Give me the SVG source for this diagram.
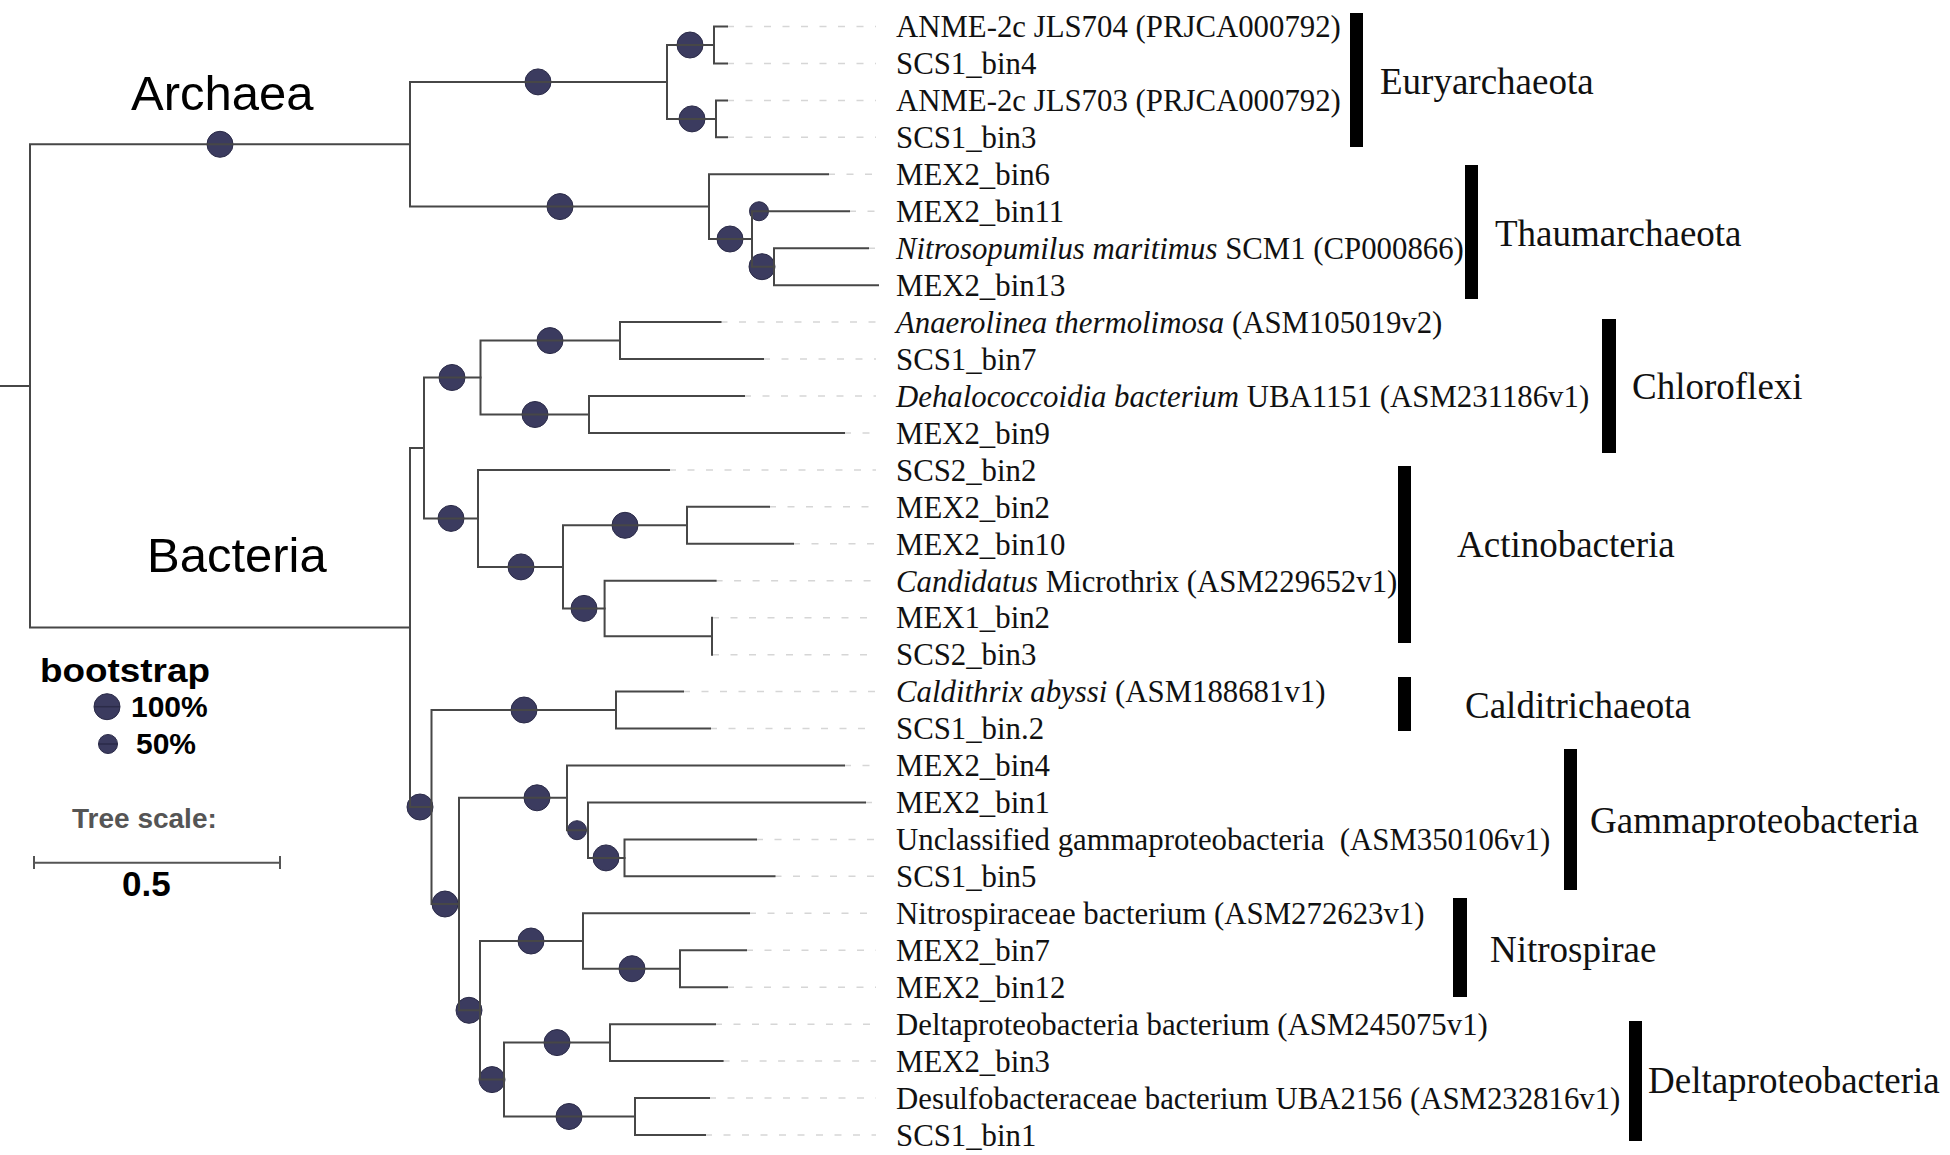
<svg xmlns="http://www.w3.org/2000/svg" width="1950" height="1155" viewBox="0 0 1950 1155">
<style>
.br{fill:none;stroke:#474747;stroke-width:2;stroke-linecap:square}
.ld{fill:none;stroke:#d6d6d6;stroke-width:1.5;stroke-dasharray:7 11.5}
.bs{fill:#3b3b5f;stroke:#2b2b48;stroke-width:1}
.lf{font-family:"Liberation Serif","Times New Roman",serif;font-size:30.8px;fill:#111}
.cl{font-family:"Liberation Serif","Times New Roman",serif;font-size:37px;fill:#111}
.dm{font-family:"Liberation Sans",Arial,sans-serif;font-size:49px;fill:#000}
.bar{fill:#000}
.it{font-style:italic}
</style>
<rect width="1950" height="1155" fill="#fff"/>
<g id="domains">
<text class="dm" x="131" y="110">Archaea</text>
<text class="dm" x="147" y="572">Bacteria</text>
</g>
<g id="leaders">
<path class="ld" d="M727 26.5H876M727 63.45H876M727 100.4H876M727 137.35H876M828 174.3H876M849 211.25H876M868 248.2H876M720.5 322.1H876M763 359.05H876M744 396H876M844 432.95H876M669 469.9H876M769 506.85H876M793 543.8H876M715.6 580.75H876M712 617.7H876M712 654.65H876M683 691.6H876M710 728.55H876M844 765.5H876M865 802.45H876M756 839.4H876M774.5 876.35H876M749 913.3H876M746 950.25H876M727 987.2H876M715 1024.15H876M722.6 1061.1H876M709 1098.05H876M705 1135H876"/>
</g>
<g id="bootstrap">
<circle class="bs" cx="220" cy="144.3" r="13"/>
<circle class="bs" cx="538" cy="81.9" r="13"/>
<circle class="bs" cx="560" cy="206.6" r="13"/>
<circle class="bs" cx="690" cy="45" r="13"/>
<circle class="bs" cx="692" cy="118.9" r="13"/>
<circle class="bs" cx="730" cy="239" r="13"/>
<circle class="bs" cx="759" cy="211.25" r="9.5"/>
<circle class="bs" cx="762" cy="266.7" r="13"/>
<circle class="bs" cx="452" cy="377.5" r="13"/>
<circle class="bs" cx="451" cy="518.4" r="13"/>
<circle class="bs" cx="550" cy="340.6" r="13"/>
<circle class="bs" cx="535" cy="414.5" r="13"/>
<circle class="bs" cx="521" cy="566.9" r="13"/>
<circle class="bs" cx="625" cy="525.3" r="13"/>
<circle class="bs" cx="584" cy="608.4" r="13"/>
<circle class="bs" cx="420" cy="807" r="13"/>
<circle class="bs" cx="524" cy="710" r="13"/>
<circle class="bs" cx="445" cy="904" r="13"/>
<circle class="bs" cx="537" cy="797.8" r="13"/>
<circle class="bs" cx="577" cy="830.2" r="9.5"/>
<circle class="bs" cx="606" cy="857.9" r="13"/>
<circle class="bs" cx="469" cy="1010.3" r="13"/>
<circle class="bs" cx="531" cy="941" r="13"/>
<circle class="bs" cx="632" cy="968.7" r="13"/>
<circle class="bs" cx="492" cy="1079.6" r="13"/>
<circle class="bs" cx="557" cy="1042.6" r="13"/>
<circle class="bs" cx="569" cy="1116.5" r="13"/>
</g>
<g id="branches">
<path class="br" d="M0 385.9H30M30 144.3V627.5M30 144.3H410M30 627.5H410"/>
<path class="br" d="M410 81.9V206.6M410 81.9H667M410 206.6H709"/>
<path class="br" d="M667 45V118.9M667 45H714M667 118.9H716"/>
<path class="br" d="M714 26.5V63.45M714 26.5H727M714 63.45H727"/>
<path class="br" d="M716 100.4V137.35M716 100.4H727M716 137.35H727"/>
<path class="br" d="M709 174.3V239M709 174.3H828M709 239H752"/>
<path class="br" d="M752 211.25V266.7M752 211.25H849M752 266.7H774"/>
<path class="br" d="M774 248.2V285.15M774 248.2H868M774 285.15H878"/>
<path class="br" d="M410 448V807M410 448H424M410 807H431.5"/>
<path class="br" d="M424 377.5V518.4M424 377.5H480.5M424 518.4H478"/>
<path class="br" d="M480.5 340.6V414.5M480.5 340.6H620M480.5 414.5H589"/>
<path class="br" d="M620 322.1V359.05M620 322.1H720.5M620 359.05H763"/>
<path class="br" d="M589 396V432.95M589 396H744M589 432.95H844"/>
<path class="br" d="M478 469.9V566.9M478 469.9H669M478 566.9H563"/>
<path class="br" d="M563 525.3V608.4M563 525.3H687M563 608.4H604.6"/>
<path class="br" d="M687 506.85V543.8M687 506.85H769M687 543.8H793"/>
<path class="br" d="M604.6 580.75V636.2M604.6 580.75H715.6M604.6 636.2H712"/>
<path class="br" d="M712 617.7V654.65"/>
<path class="br" d="M431.5 710V904M431.5 710H616M431.5 904H459"/>
<path class="br" d="M616 691.6V728.55M616 691.6H683M616 728.55H710"/>
<path class="br" d="M459 797.8V1010.3M459 797.8H567M459 1010.3H480"/>
<path class="br" d="M567 765.5V830.2M567 765.5H844M567 830.2H588"/>
<path class="br" d="M588 802.45V857.9M588 802.45H865M588 857.9H624.5"/>
<path class="br" d="M624.5 839.4V876.35M624.5 839.4H756M624.5 876.35H774.5"/>
<path class="br" d="M480 941V1079.6M480 941H583M480 1079.6H504"/>
<path class="br" d="M583 913.3V968.7M583 913.3H749M583 968.7H680"/>
<path class="br" d="M680 950.25V987.2M680 950.25H746M680 987.2H727"/>
<path class="br" d="M504 1042.6V1116.5M504 1042.6H610M504 1116.5H635"/>
<path class="br" d="M610 1024.15V1061.1M610 1024.15H715M610 1061.1H722.6"/>
<path class="br" d="M635 1098.05V1135M635 1098.05H709M635 1135H705"/>
</g>
<g id="leaves">
<text class="lf" x="896" y="37">ANME-2c JLS704 (PRJCA000792)</text>
<text class="lf" x="896" y="74">SCS1_bin4</text>
<text class="lf" x="896" y="111">ANME-2c JLS703 (PRJCA000792)</text>
<text class="lf" x="896" y="148">SCS1_bin3</text>
<text class="lf" x="896" y="185">MEX2_bin6</text>
<text class="lf" x="896" y="222">MEX2_bin11</text>
<text class="lf" x="896" y="259"><tspan class="it">Nitrosopumilus maritimus</tspan> SCM1 (CP000866)</text>
<text class="lf" x="896" y="296">MEX2_bin13</text>
<text class="lf" x="896" y="333"><tspan class="it">Anaerolinea thermolimosa</tspan> (ASM105019v2)</text>
<text class="lf" x="896" y="370">SCS1_bin7</text>
<text class="lf" x="896" y="406.5"><tspan class="it">Dehalococcoidia bacterium</tspan> UBA1151 (ASM231186v1)</text>
<text class="lf" x="896" y="443.5">MEX2_bin9</text>
<text class="lf" x="896" y="480.5">SCS2_bin2</text>
<text class="lf" x="896" y="517.5">MEX2_bin2</text>
<text class="lf" x="896" y="554.5">MEX2_bin10</text>
<text class="lf" x="896" y="591.5"><tspan class="it">Candidatus</tspan> Microthrix (ASM229652v1)</text>
<text class="lf" x="896" y="628">MEX1_bin2</text>
<text class="lf" x="896" y="665">SCS2_bin3</text>
<text class="lf" x="896" y="702"><tspan class="it">Caldithrix abyssi</tspan> (ASM188681v1)</text>
<text class="lf" x="896" y="739">SCS1_bin.2</text>
<text class="lf" x="896" y="776">MEX2_bin4</text>
<text class="lf" x="896" y="813">MEX2_bin1</text>
<text class="lf" x="896" y="850" style="white-space:pre">Unclassified gammaproteobacteria  (ASM350106v1)</text>
<text class="lf" x="896" y="887">SCS1_bin5</text>
<text class="lf" x="896" y="924">Nitrospiraceae bacterium (ASM272623v1)</text>
<text class="lf" x="896" y="961">MEX2_bin7</text>
<text class="lf" x="896" y="998">MEX2_bin12</text>
<text class="lf" x="896" y="1034.5">Deltaproteobacteria bacterium (ASM245075v1)</text>
<text class="lf" x="896" y="1071.5">MEX2_bin3</text>
<text class="lf" x="896" y="1108.5">Desulfobacteraceae bacterium UBA2156 (ASM232816v1)</text>
<text class="lf" x="896" y="1145.5">SCS1_bin1</text>
</g>
<g id="clade-euryarchaeota"><rect class="bar" x="1350" y="13" width="13" height="134"/><text class="cl" x="1380" y="94">Euryarchaeota</text></g>
<g id="clade-thaumarchaeota"><rect class="bar" x="1465" y="165" width="13" height="134"/><text class="cl" x="1495" y="246">Thaumarchaeota</text></g>
<g id="clade-chloroflexi"><rect class="bar" x="1602" y="319" width="14" height="134"/><text class="cl" x="1632" y="399">Chloroflexi</text></g>
<g id="clade-actinobacteria"><rect class="bar" x="1398" y="466" width="13" height="177"/><text class="cl" x="1457" y="557">Actinobacteria</text></g>
<g id="clade-calditrichaeota"><rect class="bar" x="1398" y="677" width="13" height="54"/><text class="cl" x="1465" y="718">Calditrichaeota</text></g>
<g id="clade-gammaproteobacteria"><rect class="bar" x="1564" y="749" width="13" height="141"/><text class="cl" x="1590" y="833">Gammaproteobacteria</text></g>
<g id="clade-nitrospirae"><rect class="bar" x="1453" y="898" width="14" height="99"/><text class="cl" x="1490" y="962">Nitrospirae</text></g>
<g id="clade-deltaproteobacteria"><rect class="bar" x="1629" y="1021" width="13" height="120"/><text class="cl" x="1648" y="1093">Deltaproteobacteria</text></g>
<g id="legend" font-family="'Liberation Sans',Arial,sans-serif" font-weight="bold">
<text x="40" y="682" font-size="34" fill="#000" textLength="170" lengthAdjust="spacingAndGlyphs">bootstrap</text>
<circle class="bs" cx="107" cy="706.7" r="13"/>
<line x1="94" y1="706.7" x2="120" y2="706.7" stroke="#2b2b48" stroke-width="1.5"/>
<text x="131" y="717" font-size="30" fill="#000">100%</text>
<circle class="bs" cx="108" cy="744" r="9.5"/>
<line x1="98.5" y1="744" x2="117.5" y2="744" stroke="#2b2b48" stroke-width="1.5"/>
<text x="136" y="754" font-size="30" fill="#000">50%</text>
<text x="72" y="828" font-size="28" fill="#555">Tree scale:</text>
<path d="M34 862.7H280M34 856V869M280 856V869" fill="none" stroke="#555" stroke-width="2"/>
<text x="122" y="896" font-size="35" fill="#000">0.5</text>
</g>
</svg>
